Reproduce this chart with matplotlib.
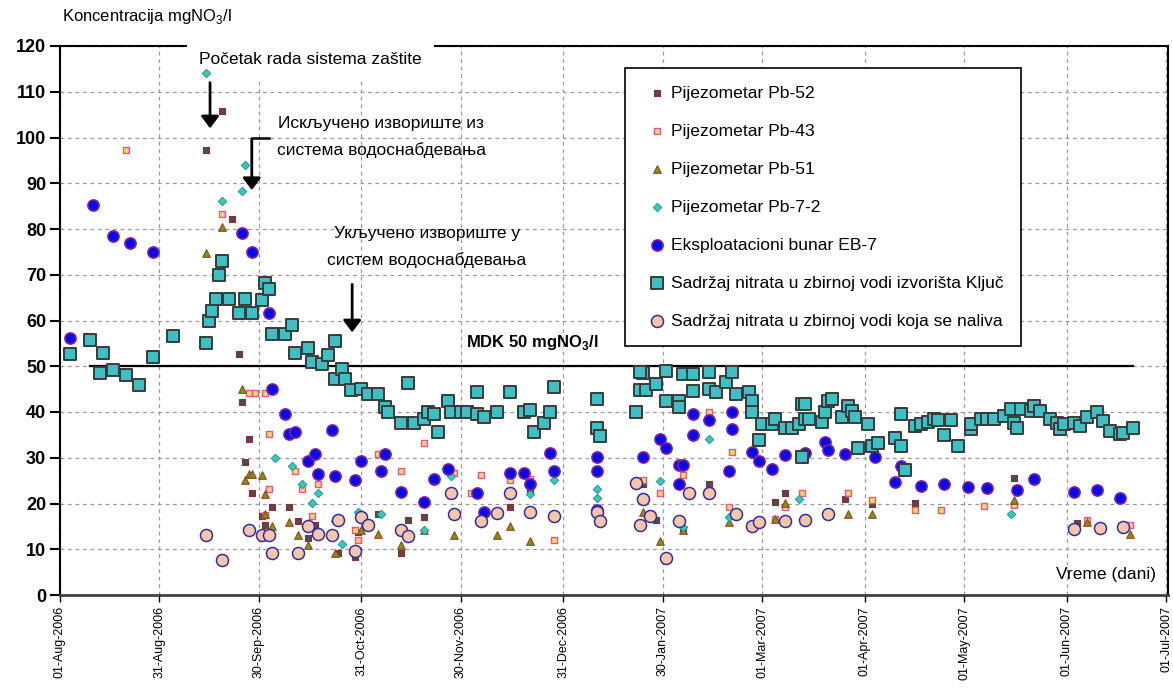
import matplotlib
matplotlib.use("Agg")
import matplotlib.pyplot as plt

plt.rcParams['font.family'] = ['Liberation Sans', 'DejaVu Sans']
plt.rcParams['mathtext.fontset'] = 'custom'
plt.rcParams['mathtext.rm'] = 'Liberation Sans'
plt.rcParams['mathtext.bf'] = 'Liberation Sans:bold'

# dani od 01-Aug-2006
tick_days = [0, 30, 60, 91, 121, 152, 182, 212, 243, 273, 304, 334]
tick_labels = ["01-Aug-2006", "31-Aug-2006", "30-Sep-2006", "31-Oct-2006",
               "30-Nov-2006", "31-Dec-2006", "30-Jan-2007", "01-Mar-2007",
               "01-Apr-2007", "01-May-2007", "01-Jun-2007", "01-Jul-2007"]

pb52_dan = [44, 49, 52, 54, 55, 57, 56, 58, 61, 62, 64, 69, 72, 75, 77, 84, 89, 90,
            96, 103, 105, 110, 136, 142, 176, 180, 188, 196, 216, 219, 237, 245, 258,
            288, 307]
pb52_vr = [97.3, 105.8, 82.2, 52.7, 42.1, 34.1, 29.1, 22.2, 17.2, 15.3, 19.3, 19.3,
           16.2, 12.4, 15.3, 9.1, 8.2, 13.8, 17.8, 9.1, 16.5, 17.1, 19.3, 22.9, 24.3,
           16.3, 14.1, 24.3, 20.4, 22.2, 21.0, 19.8, 20.2, 25.5, 15.8]

pb43_dan = [20, 49, 57, 59, 62, 63, 63, 62, 71, 73, 76, 78, 89, 90, 96, 103, 110, 119,
            124, 127, 136, 142, 149, 176, 181, 188, 196, 203, 202, 216, 219, 224, 238,
            245, 258, 266, 279, 288, 310, 323]
pb43_vr = [97.3, 83.3, 44.1, 44.1, 44.1, 35.2, 23.2, 17.5, 27.2, 23.2, 17.3, 24.3,
           14.3, 12.1, 30.9, 27.2, 33.2, 26.6, 22.2, 26.3, 25.1, 25.3, 12.1, 25.1, 22.2,
           26.3, 40.0, 31.2, 19.3, 16.7, 19.3, 22.4, 22.2, 20.7, 18.5, 18.5, 19.4, 19.6,
           16.4, 15.4]

pb51_dan = [44, 49, 55, 56, 57, 58, 61, 62, 62, 64, 69, 72, 75, 83, 91, 96, 103, 110,
            119, 132, 136, 142, 176, 181, 188, 202, 216, 219, 238, 245, 288, 310, 323]
pb51_vr = [74.8, 80.5, 45.1, 25.2, 26.5, 26.4, 26.2, 22.0, 17.8, 15.1, 16.0, 13.1,
           10.9, 9.1, 14.1, 13.3, 11.0, 14.1, 13.2, 13.2, 15.0, 11.9, 18.2, 11.9, 14.1,
           16.0, 16.7, 20.1, 17.8, 17.8, 20.7, 15.9, 13.3]

pb72_dan = [44, 49, 55, 56, 65, 70, 73, 78, 76, 85, 83, 90, 97, 110, 118, 142, 149,
            162, 162, 181, 188, 196, 202, 223, 287]
pb72_vr = [114.0, 86.2, 88.2, 94.0, 30.0, 28.3, 24.3, 22.2, 20.2, 11.1, 16.2, 18.2,
           17.6, 14.1, 26.0, 22.1, 25.1, 23.1, 21.3, 25.0, 14.9, 34.0, 17.1, 21.0, 17.7]

eb7_dan = [3, 10, 16, 21, 28, 55, 58, 63, 64, 68, 69, 71, 75, 77, 78, 82, 83, 89, 91,
           97, 98, 103, 110, 113, 117, 126, 128, 136, 140, 142, 148, 149, 162, 162, 162,
           176, 181, 183, 187, 188, 187, 191, 191, 196, 203, 203, 202, 209, 211, 215,
           219, 225, 231, 232, 237, 246, 252, 254, 260, 267, 274, 280, 289, 294, 306,
           313, 320]
eb7_vr = [56.2, 85.3, 78.5, 76.9, 74.9, 79.1, 74.9, 61.6, 45.1, 39.6, 35.3, 35.6, 29.3,
          30.9, 26.4, 36.0, 26.1, 25.1, 29.3, 27.1, 30.9, 22.6, 20.4, 25.3, 27.5, 22.4,
          18.2, 26.6, 26.6, 24.3, 31.0, 27.2, 30.1, 27.2, 18.5, 30.1, 34.2, 32.1, 28.5,
          28.5, 24.3, 39.5, 34.9, 38.2, 40.0, 36.2, 27.2, 31.2, 29.2, 27.5, 30.7, 31.0,
          33.4, 31.8, 30.9, 30.1, 24.8, 28.1, 23.8, 24.3, 23.5, 23.3, 22.9, 25.3, 22.6,
          22.9, 21.3]

kljuc_dan = [3, 9, 12, 13, 16, 20, 24, 28, 34, 44, 45, 46, 47, 48, 49, 51, 54, 56, 58,
             61, 62, 63, 64, 68, 70, 71, 75, 76, 79, 81, 83, 83, 85, 86, 88, 91, 93, 96,
             98, 99, 103, 105, 107, 110, 111, 113, 114, 117, 118, 121, 123, 126, 126,
             128, 132, 136, 140, 142, 143, 146, 148, 149, 162, 162, 163, 174, 175, 176,
             175, 177, 180, 183, 183, 187, 187, 188, 191, 191, 196, 196, 198, 201, 203,
             204, 208, 209, 209, 212, 211, 215, 216, 219, 221, 223, 224, 225, 224, 225,
             226, 230, 231, 232, 233, 236, 238, 239, 240, 241, 244, 245, 247, 252, 254,
             254, 255, 258, 260, 262, 264, 265, 269, 267, 271, 275, 275, 278, 280, 282,
             285, 287, 288, 289, 290, 293, 294, 296, 299, 301, 302, 303, 306, 308, 310,
             313, 315, 317, 320, 321, 324]
kljuc_vr = [52.6, 55.8, 48.5, 52.9, 49.1, 48.0, 46.0, 52.0, 56.7, 55.1, 60.0, 62.0,
            64.8, 70.0, 72.9, 64.8, 61.7, 64.8, 61.7, 64.4, 68.3, 66.8, 57.1, 57.1, 59.1,
            52.9, 54.0, 51.0, 50.5, 52.4, 55.5, 47.2, 49.3, 47.2, 44.7, 45.1, 44.0, 44.0,
            41.1, 40.0, 37.6, 46.3, 37.6, 38.4, 39.9, 39.5, 35.6, 42.3, 40.0, 40.0, 40.0,
            44.3, 39.5, 38.8, 39.9, 44.3, 40.0, 40.4, 35.6, 37.6, 40.0, 45.4, 42.8, 36.5,
            34.7, 40.1, 44.9, 48.5, 48.7, 44.9, 46.1, 49.0, 42.4, 42.4, 41.0, 48.3, 48.3,
            44.6, 48.8, 45.0, 44.3, 46.5, 48.7, 43.9, 44.3, 42.4, 39.9, 37.3, 33.8, 37.3,
            38.5, 36.5, 36.5, 37.3, 41.7, 38.5, 30.1, 41.7, 38.4, 37.8, 40.0, 42.4, 42.8,
            38.8, 41.3, 40.2, 38.8, 32.1, 37.3, 32.6, 33.2, 34.3, 32.5, 39.5, 27.4, 36.9,
            37.3, 37.8, 38.5, 38.2, 38.2, 34.9, 32.6, 36.3, 37.3, 38.5, 38.4, 38.4, 39.1,
            40.6, 37.6, 36.5, 40.6, 40.2, 41.3, 40.2, 38.4, 37.6, 36.2, 37.3, 37.6, 36.9,
            38.8, 40.0, 38.0, 35.8, 35.1, 35.4, 36.5]

naliva_dan = [44, 49, 57, 61, 63, 64, 72, 75, 78, 82, 84, 89, 91, 93, 103, 105, 118,
              119, 127, 132, 136, 142, 149, 162, 163, 174, 176, 178, 175, 183, 187, 190,
              196, 204, 209, 211, 219, 225, 232, 306, 314, 321]
naliva_vr = [13.2, 7.7, 14.2, 13.2, 13.2, 9.1, 9.1, 15.1, 13.4, 13.1, 16.3, 9.7, 17.1,
             15.2, 14.3, 13.0, 22.4, 17.6, 16.2, 17.9, 22.4, 18.2, 17.2, 18.2, 16.2, 24.4,
             20.9, 17.2, 15.2, 8.1, 16.2, 22.4, 22.4, 17.8, 15.0, 16.0, 16.2, 16.3, 17.6,
             14.4, 14.6, 14.8]

mdk = 50
mdk_od, mdk_do = 9, 324

fig = plt.figure(figsize=(11.73, 6.93), dpi=100)
ax = fig.add_axes([60 / 1173, 1 - 595 / 693, 1108 / 1173, 549 / 693])

ax.set_xlim(0, 334.5)
ax.set_ylim(0, 120)
ax.set_yticks(range(0, 121, 10))
ax.set_xticks(tick_days)
ax.set_xticklabels(tick_labels, rotation=90, fontsize=9)
for lbl in ax.get_yticklabels():
    lbl.set_fontweight('bold')
    lbl.set_fontsize(13)
ax.tick_params(axis='y', direction='out', length=7, width=1.5, pad=3)
ax.tick_params(axis='x', direction='out', length=5, width=1, pad=3)
ax.grid(True, ls=(0, (3, 3)), color='#9a9a9a', lw=0.9)
ax.set_axisbelow(True)
for s in ['left', 'right', 'top']:
    ax.spines[s].set_linewidth(1.5)
ax.spines['bottom'].set_linewidth(2)
ax.spines['bottom'].set_color('#404040')

ax.plot([mdk_od, mdk_do], [mdk, mdk], color='black', lw=1.6, zorder=2)

ax.scatter(pb52_dan, pb52_vr, s=20, marker='s', c='#4d4d4d', edgecolors='#8b2e2e',
           linewidths=0.8, label='Pijezometar Pb-52', zorder=3)
ax.scatter(pb43_dan, pb43_vr, s=22, marker='s', c='#ffd75e', edgecolors='#e0559a',
           linewidths=1, label='Pijezometar Pb-43', zorder=3.1)
ax.scatter(pb51_dan, pb51_vr, s=30, marker='^', c='#6e9b1e', edgecolors='#a0401a',
           linewidths=0.8, label='Pijezometar Pb-51', zorder=3.2)
ax.scatter(pb72_dan, pb72_vr, s=18, marker='D', c='#3cc8b8', edgecolors='#2b9c9c',
           linewidths=0.8, label='Pijezometar Pb-7-2', zorder=3.3)
ax.scatter(eb7_dan, eb7_vr, s=64, marker='o', c='#0a0ae6', edgecolors='#7a1fa2',
           linewidths=1.2, label='Eksploatacioni bunar EB-7', zorder=3.4)
ax.scatter(kljuc_dan, kljuc_vr, s=85, marker='s', c='#3dbfc4', edgecolors='#3a3a3a',
           linewidths=1.4, label='Sadržaj nitrata u zbirnoj vodi izvorišta Ključ', zorder=3.5)
ax.scatter(naliva_dan, naliva_vr, s=75, marker='o', c='#f7c6a8', edgecolors='#2e2ea0',
           linewidths=1.1, label='Sadržaj nitrata u zbirnoj vodi koja se naliva', zorder=3.6)

leg = ax.legend(loc='upper left', bbox_to_anchor=(0.51, 0.96), fontsize=12.6,
                frameon=True, fancybox=False, framealpha=1, edgecolor='black',
                borderpad=1.0, labelspacing=1.3, handletextpad=0.0,
                handlelength=1.6, borderaxespad=0, scatterpoints=1)
leg.get_frame().set_linewidth(1.2)
leg.set_zorder(6)

# natpisi i strelice
ax.text(75.6, 117, 'Početak rada sistema zaštite', ha='center', va='center',
        fontsize=12.5, zorder=3.25, bbox=dict(fc='white', ec='none', pad=9))
ax.annotate('', xy=(45.3, 101.4), xytext=(45.3, 112.6),
            arrowprops=dict(arrowstyle='-|>,head_length=0.4,head_width=0.3',
                            color='black', lw=2, mutation_scale=18), zorder=7)

ax.text(65.9, 103.1, 'Искључено извориште из', ha='left', va='center', fontsize=12.5)
ax.text(65.5, 97.3, 'система водоснабдевања', ha='left', va='center', fontsize=12.5)
ax.plot([63, 57.9], [100, 100], color='black', lw=1.8)
ax.annotate('', xy=(57.9, 87.9), xytext=(57.9, 100.2),
            arrowprops=dict(arrowstyle='-|>,head_length=0.4,head_width=0.3',
                            color='black', lw=2, mutation_scale=18))

ax.text(110.9, 79.1, 'Укључено извориште у', ha='center', va='center', fontsize=12.5)
ax.text(110.8, 73.2, 'систем водоснабдевања', ha='center', va='center', fontsize=12.5)
ax.annotate('', xy=(88.2, 56.8), xytext=(88.2, 68.5),
            arrowprops=dict(arrowstyle='-|>,head_length=0.4,head_width=0.3',
                            color='black', lw=2, mutation_scale=18))

ax.text(142.7, 55.2, 'MDK 50 mgNO$_\\mathbf{3}$/l', ha='center', va='center',
        fontsize=12, fontweight='bold')
ax.text(330.9, 4.4, 'Vreme (dani)', ha='right', va='center', fontsize=12.5)
fig.text(62 / 1173, 1 - 17 / 693, 'Koncentracija mgNO$_3$/l', ha='left', va='center',
         fontsize=12)

fig.savefig('out.png', dpi=100)
